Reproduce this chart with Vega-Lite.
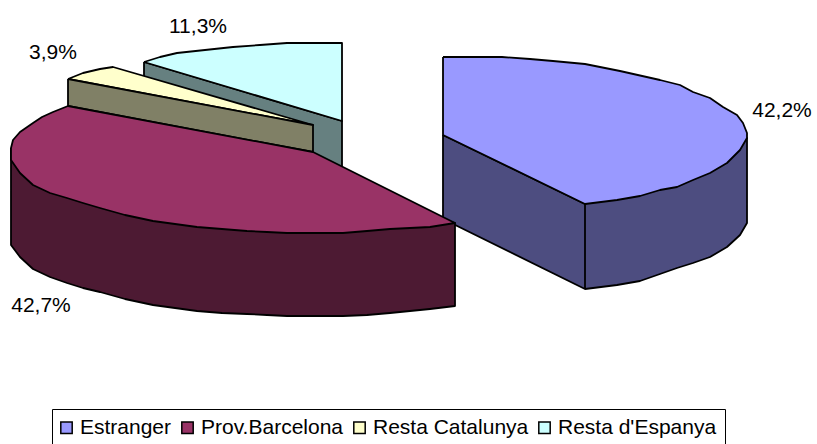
{"$schema":"https://vega.github.io/schema/vega-lite/v6.json","width":817,"height":444,"padding":0,"autosize":{"type":"fit","contains":"padding"},"background":"white","config":{"view":{"stroke":null}},
"layer":[
{"data":{"values":[
{"face":"Resta d'Espanya paret","i":1,"x":144,"y":62},{"face":"Resta d'Espanya paret","i":2,"x":342,"y":121},{"face":"Resta d'Espanya paret","i":3,"x":342,"y":205},{"face":"Resta d'Espanya paret","i":4,"x":144,"y":146},{"face":"Resta d'Espanya paret","i":5,"x":144,"y":62},
{"face":"Resta d'Espanya","i":1,"x":144,"y":62},{"face":"Resta d'Espanya","i":2,"x":160,"y":57},{"face":"Resta d'Espanya","i":3,"x":177,"y":53},{"face":"Resta d'Espanya","i":4,"x":205,"y":50},{"face":"Resta d'Espanya","i":5,"x":233,"y":47},{"face":"Resta d'Espanya","i":6,"x":260,"y":45},{"face":"Resta d'Espanya","i":7,"x":287,"y":43},{"face":"Resta d'Espanya","i":8,"x":342,"y":43},{"face":"Resta d'Espanya","i":9,"x":342,"y":121},{"face":"Resta d'Espanya","i":10,"x":144,"y":62},
{"face":"Resta Catalunya","i":1,"x":68,"y":79},{"face":"Resta Catalunya","i":2,"x":83,"y":73},{"face":"Resta Catalunya","i":3,"x":100,"y":69},{"face":"Resta Catalunya","i":4,"x":113,"y":67},{"face":"Resta Catalunya","i":5,"x":313,"y":125},{"face":"Resta Catalunya","i":6,"x":68,"y":79},
{"face":"Resta Catalunya paret","i":1,"x":68,"y":79},{"face":"Resta Catalunya paret","i":2,"x":313,"y":125},{"face":"Resta Catalunya paret","i":3,"x":313,"y":152},{"face":"Resta Catalunya paret","i":4,"x":68,"y":106},{"face":"Resta Catalunya paret","i":5,"x":68,"y":79},
{"face":"Estranger paret","i":1,"x":443,"y":135},{"face":"Estranger paret","i":2,"x":585,"y":204},{"face":"Estranger paret","i":3,"x":747,"y":138},{"face":"Estranger paret","i":4,"x":747,"y":223},{"face":"Estranger paret","i":5,"x":740,"y":235},{"face":"Estranger paret","i":6,"x":727,"y":247},{"face":"Estranger paret","i":7,"x":710,"y":257},{"face":"Estranger paret","i":8,"x":693,"y":263},{"face":"Estranger paret","i":9,"x":677,"y":268},{"face":"Estranger paret","i":10,"x":660,"y":274},{"face":"Estranger paret","i":11,"x":640,"y":281},{"face":"Estranger paret","i":12,"x":617,"y":285},{"face":"Estranger paret","i":13,"x":585,"y":289},{"face":"Estranger paret","i":14,"x":443,"y":219},{"face":"Estranger paret","i":15,"x":443,"y":135},
{"face":"Estranger cantell","i":1,"x":585,"y":204},{"face":"Estranger cantell","i":2,"x":585,"y":289},
{"face":"Estranger","i":1,"x":443,"y":57},{"face":"Estranger","i":2,"x":502,"y":57},{"face":"Estranger","i":3,"x":530,"y":59},{"face":"Estranger","i":4,"x":553,"y":61},{"face":"Estranger","i":5,"x":585,"y":64},{"face":"Estranger","i":6,"x":620,"y":71},{"face":"Estranger","i":7,"x":660,"y":80},{"face":"Estranger","i":8,"x":680,"y":85},{"face":"Estranger","i":9,"x":693,"y":92},{"face":"Estranger","i":10,"x":710,"y":98},{"face":"Estranger","i":11,"x":723,"y":107},{"face":"Estranger","i":12,"x":737,"y":115},{"face":"Estranger","i":13,"x":743,"y":123},{"face":"Estranger","i":14,"x":747,"y":133},{"face":"Estranger","i":15,"x":747,"y":138},{"face":"Estranger","i":16,"x":740,"y":150},{"face":"Estranger","i":17,"x":727,"y":163},{"face":"Estranger","i":18,"x":710,"y":173},{"face":"Estranger","i":19,"x":693,"y":180},{"face":"Estranger","i":20,"x":677,"y":187},{"face":"Estranger","i":21,"x":660,"y":190},{"face":"Estranger","i":22,"x":640,"y":196},{"face":"Estranger","i":23,"x":617,"y":200},{"face":"Estranger","i":24,"x":585,"y":204},{"face":"Estranger","i":25,"x":443,"y":135},{"face":"Estranger","i":26,"x":443,"y":57},
{"face":"Prov.Barcelona paret","i":1,"x":11,"y":148},{"face":"Prov.Barcelona paret","i":2,"x":455,"y":223},{"face":"Prov.Barcelona paret","i":3,"x":455,"y":306},{"face":"Prov.Barcelona paret","i":4,"x":430,"y":309},{"face":"Prov.Barcelona paret","i":5,"x":410,"y":311},{"face":"Prov.Barcelona paret","i":6,"x":390,"y":313},{"face":"Prov.Barcelona paret","i":7,"x":367,"y":315},{"face":"Prov.Barcelona paret","i":8,"x":343,"y":316},{"face":"Prov.Barcelona paret","i":9,"x":315,"y":316},{"face":"Prov.Barcelona paret","i":10,"x":287,"y":316},{"face":"Prov.Barcelona paret","i":11,"x":267,"y":315},{"face":"Prov.Barcelona paret","i":12,"x":247,"y":314},{"face":"Prov.Barcelona paret","i":13,"x":222,"y":313},{"face":"Prov.Barcelona paret","i":14,"x":197,"y":311},{"face":"Prov.Barcelona paret","i":15,"x":175,"y":308},{"face":"Prov.Barcelona paret","i":16,"x":153,"y":305},{"face":"Prov.Barcelona paret","i":17,"x":125,"y":299},{"face":"Prov.Barcelona paret","i":18,"x":100,"y":292},{"face":"Prov.Barcelona paret","i":19,"x":83,"y":288},{"face":"Prov.Barcelona paret","i":20,"x":67,"y":283},{"face":"Prov.Barcelona paret","i":21,"x":50,"y":277},{"face":"Prov.Barcelona paret","i":22,"x":33,"y":269},{"face":"Prov.Barcelona paret","i":23,"x":20,"y":257},{"face":"Prov.Barcelona paret","i":24,"x":11,"y":245},{"face":"Prov.Barcelona paret","i":25,"x":11,"y":148},
{"face":"Prov.Barcelona","i":1,"x":68,"y":106},{"face":"Prov.Barcelona","i":2,"x":53,"y":112},{"face":"Prov.Barcelona","i":3,"x":42,"y":117},{"face":"Prov.Barcelona","i":4,"x":33,"y":123},{"face":"Prov.Barcelona","i":5,"x":20,"y":132},{"face":"Prov.Barcelona","i":6,"x":13,"y":140},{"face":"Prov.Barcelona","i":7,"x":11,"y":148},{"face":"Prov.Barcelona","i":8,"x":11,"y":160},{"face":"Prov.Barcelona","i":9,"x":20,"y":173},{"face":"Prov.Barcelona","i":10,"x":33,"y":185},{"face":"Prov.Barcelona","i":11,"x":50,"y":193},{"face":"Prov.Barcelona","i":12,"x":67,"y":198},{"face":"Prov.Barcelona","i":13,"x":83,"y":203},{"face":"Prov.Barcelona","i":14,"x":100,"y":208},{"face":"Prov.Barcelona","i":15,"x":125,"y":215},{"face":"Prov.Barcelona","i":16,"x":153,"y":221},{"face":"Prov.Barcelona","i":17,"x":175,"y":224},{"face":"Prov.Barcelona","i":18,"x":197,"y":227},{"face":"Prov.Barcelona","i":19,"x":222,"y":229},{"face":"Prov.Barcelona","i":20,"x":247,"y":231},{"face":"Prov.Barcelona","i":21,"x":267,"y":232},{"face":"Prov.Barcelona","i":22,"x":287,"y":233},{"face":"Prov.Barcelona","i":23,"x":315,"y":233},{"face":"Prov.Barcelona","i":24,"x":343,"y":233},{"face":"Prov.Barcelona","i":25,"x":367,"y":231},{"face":"Prov.Barcelona","i":26,"x":390,"y":229},{"face":"Prov.Barcelona","i":27,"x":410,"y":228},{"face":"Prov.Barcelona","i":28,"x":430,"y":227},{"face":"Prov.Barcelona","i":29,"x":455,"y":223},{"face":"Prov.Barcelona","i":30,"x":313,"y":152},{"face":"Prov.Barcelona","i":31,"x":68,"y":106}
]},
"mark":{"type":"line","stroke":"black","strokeWidth":1.8,"strokeJoin":"round"},
"encoding":{
"x":{"field":"x","type":"quantitative","scale":{"domain":[0,817]},"axis":null},
"y":{"field":"y","type":"quantitative","scale":{"domain":[444,0]},"axis":null},
"order":{"field":"i"},
"fill":{"field":"face","type":"nominal","sort":null,
"scale":{"domain":["Estranger","Prov.Barcelona","Resta Catalunya","Resta d'Espanya","Estranger paret","Estranger cantell","Prov.Barcelona paret","Resta Catalunya paret","Resta d'Espanya paret"],"range":["#9999FF","#993366","#FFFFCC","#CCFFFF","#4D4D80","#4D4D80","#4D1A33","#808066","#668080"]},
"legend":{"title":null,"values":["Estranger","Prov.Barcelona","Resta Catalunya","Resta d'Espanya"],"orient":"none","legendX":52,"legendY":409,"direction":"horizontal","columns":4,"columnPadding":6,"padding":8,"fillColor":"white","strokeColor":"black","symbolType":"square","symbolSize":130,"symbolOffset":-4,"symbolOpacity":1,"labelFont":"Liberation Sans","labelFontSize":21,"labelColor":"black","labelOffset":3,"encode":{"symbols":{"update":{"stroke":{"value":"black"},"strokeWidth":{"value":1.8}}}}}}
}},
{"data":{"values":[
{"label":"42,2%","x":782,"y":111},{"label":"11,3%","x":198,"y":27},{"label":"3,9%","x":53,"y":53},{"label":"42,7%","x":41,"y":306}
]},
"mark":{"type":"text","font":"Liberation Sans","fontSize":21,"color":"black","align":"center","baseline":"middle"},
"encoding":{"x":{"field":"x","type":"quantitative","scale":{"domain":[0,817]},"axis":null},"y":{"field":"y","type":"quantitative","scale":{"domain":[444,0]},"axis":null},"text":{"field":"label"}}}
]}
